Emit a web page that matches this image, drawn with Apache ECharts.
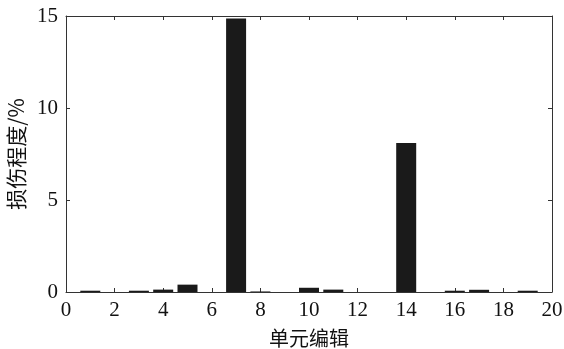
<!DOCTYPE html>
<html>
<head>
<meta charset="utf-8">
<script src="https://cdn.jsdelivr.net/npm/echarts@6/dist/echarts.min.js"></script>
<style>
  html, body { margin: 0; padding: 0; background: #fff; }
  #chart { width: 564px; height: 349px; }
</style>
</head>
<body>
<div id="chart"></div>
<script>
// 单元编号 and 损伤程度 (%)
const elements = [1, 3, 4, 5, 7, 8, 10, 11, 14, 16, 17, 19]
const damage = [0.07, 0.07, 0.13, 0.4, 14.87, 0.03, 0.23, 0.13, 8.1, 0.07, 0.12, 0.07]
const xTicks = [0, 2, 4, 6, 8, 10, 12, 14, 16, 18, 20]
const yTicks = [0, 5, 10, 15]

const serif = '"Liberation Serif", "DejaVu Serif", serif'
const cjk = '"Noto Sans CJK SC", sans-serif'
const lineColor = '#333'

let chart = echarts.init(document.getElementById('chart'))

let baseX = {
  type: 'value',
  min: xTicks[0],
  max: xTicks[xTicks.length - 1],
  interval: 2,
  splitLine: { show: false },
  axisLine: { show: true, onZero: false, lineStyle: { color: lineColor, width: 1 } },
  axisTick: { show: true, inside: true, length: 4, lineStyle: { color: lineColor } }
}
let baseY = {
  type: 'value',
  min: yTicks[0],
  max: yTicks[yTicks.length - 1],
  interval: 5,
  splitLine: { show: false },
  axisLine: { show: true, onZero: false, lineStyle: { color: lineColor, width: 1 } },
  axisTick: { show: true, inside: true, length: 4, lineStyle: { color: lineColor } }
}

let option = {
  animation: false,
  grid: { left: 66, right: 12, top: 16, bottom: 57, outerBoundsMode: 'none' },
  xAxis: [
    Object.assign({}, baseX, {
      position: 'bottom',
      name: '单元编辑',
      nameLocation: 'middle',
      nameGap: 36,
      nameTextStyle: { fontFamily: cjk, fontSize: 20, color: '#111' },
      axisLabel: { fontFamily: serif, fontSize: 21, color: '#111', margin: 8 }
    }),
    Object.assign({}, baseX, {
      position: 'top',
      axisLabel: { show: false }
    })
  ],
  yAxis: [
    Object.assign({}, baseY, {
      position: 'left',
      name: '损伤程度/%',
      nameLocation: 'middle',
      nameGap: 33,
      nameTextStyle: { fontFamily: cjk, fontSize: 21, color: '#111' },
      axisLabel: { fontFamily: serif, fontSize: 21, color: '#111', margin: 8 }
    }),
    Object.assign({}, baseY, {
      position: 'right',
      axisLabel: { show: false }
    })
  ],
  series: [
    {
      type: 'bar',
      xAxisIndex: 0,
      yAxisIndex: 0,
      barWidth: 20,
      itemStyle: { color: '#1a1a1a' },
      data: elements.map((e, i) => [e, damage[i]])
    }
  ]
}

chart.setOption(option)
</script>
</body>
</html>
